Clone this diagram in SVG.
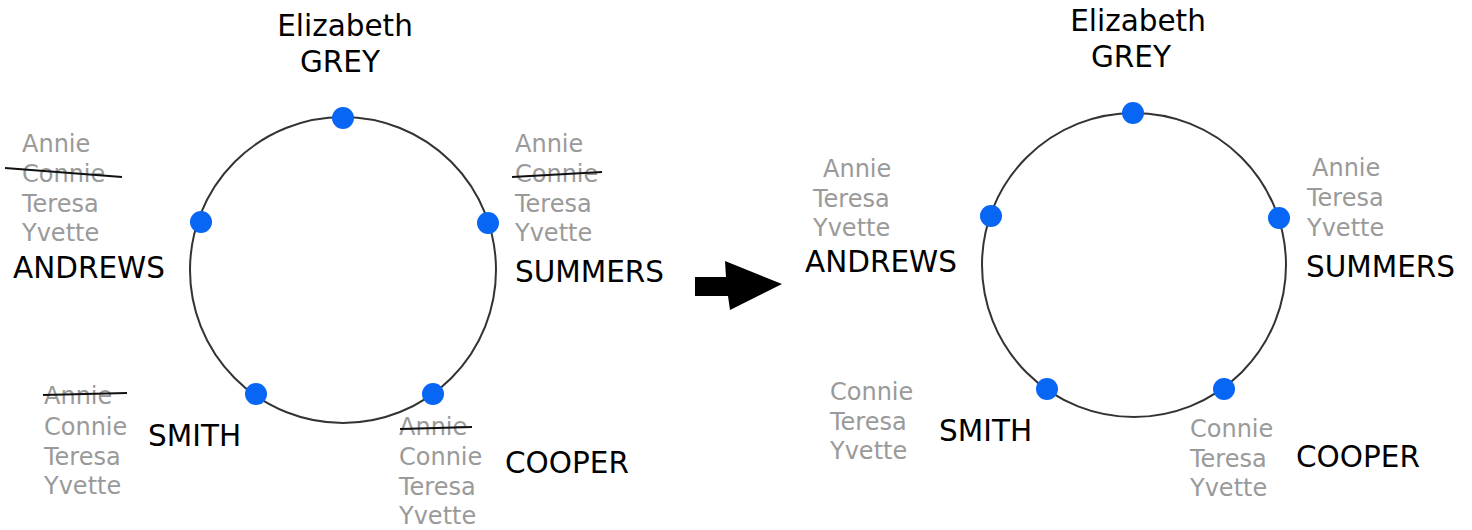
<svg xmlns="http://www.w3.org/2000/svg" width="1472" height="530" viewBox="0 0 1472 530">
<style>
.ring{fill:none;stroke:#333;stroke-width:2}
.dot{fill:#0866f5}
.g{font-family:"DejaVu Sans",Verdana,sans-serif;font-size:24px;fill:#9a9a9a}
.b{font-family:"DejaVu Sans",Verdana,sans-serif;font-size:29.5px;fill:#000}
.st{stroke:#111;stroke-width:2;fill:none}
</style>
<rect width="1472" height="530" fill="#fff"/>
<g id="before">
<g id="ring1"><circle class="ring" cx="343" cy="270" r="153"/></g>
<g id="grey1">
<circle class="dot" cx="343" cy="118" r="11"/>
<text class="b" x="345" y="36" text-anchor="middle">Elizabeth</text>
<text class="b" x="340" y="72" text-anchor="middle">GREY</text>
</g>
<g id="andrews1">
<circle class="dot" cx="201" cy="222" r="11"/>
<text class="g" x="22" y="152">Annie</text>
<text class="g" x="22" y="182">Connie</text>
<text class="g" x="22" y="212">Teresa</text>
<text class="g" x="22" y="241">Yvette</text>
<text class="b" x="13" y="278">ANDREWS</text>
</g>
<g id="summers1">
<circle class="dot" cx="488" cy="223" r="11"/>
<text class="g" x="515" y="152">Annie</text>
<text class="g" x="515" y="182">Connie</text>
<text class="g" x="515" y="212">Teresa</text>
<text class="g" x="515" y="241">Yvette</text>
<text class="b" x="515" y="282">SUMMERS</text>
</g>
<g id="smith1">
<circle class="dot" cx="256" cy="394" r="11"/>
<text class="g" x="44" y="404">Annie</text>
<text class="g" x="44" y="435">Connie</text>
<text class="g" x="44" y="465">Teresa</text>
<text class="g" x="44" y="494">Yvette</text>
<text class="b" x="148" y="446">SMITH</text>
</g>
<g id="cooper1">
<circle class="dot" cx="433" cy="394" r="11"/>
<text class="g" x="399" y="435">Annie</text>
<text class="g" x="399" y="465">Connie</text>
<text class="g" x="399" y="495">Teresa</text>
<text class="g" x="399" y="524">Yvette</text>
<text class="b" x="505" y="473">COOPER</text>
</g>
</g>
<g id="connectors">
<path class="st" d="M5 168 L122 177"/>
<path class="st" d="M512 177 L602 172"/>
<path class="st" d="M43 395 L127 393"/>
<path class="st" d="M400 429 L472 427"/>
<polygon points="695,277 726,277 725,261 782,284 730,310 728,296 695,296" fill="#000"/>
</g>
<g id="after">
<g id="ring2"><circle class="ring" cx="1134" cy="265" r="152"/></g>
<g id="grey2">
<circle class="dot" cx="1133" cy="113" r="11"/>
<text class="b" x="1138" y="31" text-anchor="middle">Elizabeth</text>
<text class="b" x="1131" y="67" text-anchor="middle">GREY</text>
</g>
<g id="andrews2">
<circle class="dot" cx="991" cy="216" r="11"/>
<text class="g" x="823" y="177">Annie</text>
<text class="g" x="813" y="207">Teresa</text>
<text class="g" x="813" y="236">Yvette</text>
<text class="b" x="805" y="272">ANDREWS</text>
</g>
<g id="summers2">
<circle class="dot" cx="1279" cy="218" r="11"/>
<text class="g" x="1312" y="176">Annie</text>
<text class="g" x="1307" y="206">Teresa</text>
<text class="g" x="1307" y="236">Yvette</text>
<text class="b" x="1306" y="277">SUMMERS</text>
</g>
<g id="smith2">
<circle class="dot" cx="1047" cy="389" r="11"/>
<text class="g" x="830" y="400">Connie</text>
<text class="g" x="830" y="430">Teresa</text>
<text class="g" x="830" y="459">Yvette</text>
<text class="b" x="939" y="441">SMITH</text>
</g>
<g id="cooper2">
<circle class="dot" cx="1224" cy="389" r="11"/>
<text class="g" x="1190" y="437">Connie</text>
<text class="g" x="1190" y="467">Teresa</text>
<text class="g" x="1190" y="496">Yvette</text>
<text class="b" x="1296" y="467">COOPER</text>
</g>
</g>
</svg>
